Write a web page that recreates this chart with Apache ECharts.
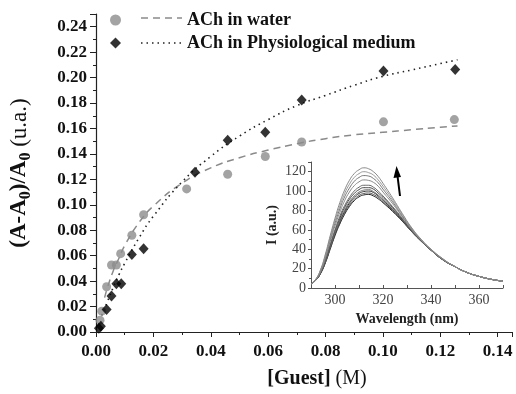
<!DOCTYPE html>
<html>
<head>
<meta charset="utf-8">
<script src="https://cdn.jsdelivr.net/npm/echarts@6/dist/echarts.min.js"></script>
<style>
html,body{margin:0;padding:0;background:#fff;}
#chart{width:516px;height:394px;}
</style>
</head>
<body>
<div id="chart"></div>
<script>
// ---- Main chart data ----
const waterX = [0.0014, 0.0020, 0.0037, 0.0054, 0.0071, 0.0086, 0.0125, 0.0166, 0.0316, 0.0459, 0.0590, 0.0717, 0.1002, 0.1249];
const waterY = [0.0093, 0.0164, 0.0356, 0.0527, 0.0527, 0.0616, 0.0761, 0.0922, 0.1125, 0.1240, 0.1380, 0.1494, 0.1652, 0.1670];
const physX = [0.0010, 0.0017, 0.0037, 0.0054, 0.0071, 0.0088, 0.0125, 0.0166, 0.0345, 0.0459, 0.0590, 0.0717, 0.1002, 0.1252];
const physY = [0.0030, 0.0045, 0.0177, 0.0283, 0.0380, 0.0380, 0.0610, 0.0655, 0.1255, 0.1507, 0.1570, 0.1824, 0.2052, 0.2063];

const fitX = [0.003, 0.004, 0.006, 0.008, 0.010, 0.015, 0.020, 0.030, 0.040, 0.050, 0.060, 0.070, 0.080, 0.090, 0.100, 0.110, 0.120, 0.126];
const waterFitY = [0.027, 0.035, 0.048, 0.058, 0.068, 0.086, 0.099, 0.117, 0.129, 0.137, 0.143, 0.148, 0.152, 0.155, 0.157, 0.159, 0.161, 0.162];
const physFitX = [0.002, 0.004, 0.006, 0.008, 0.010, 0.015, 0.020, 0.030, 0.040, 0.050, 0.060, 0.070, 0.080, 0.090, 0.100, 0.110, 0.120, 0.126];
const physFitY = [0.013, 0.024, 0.035, 0.045, 0.054, 0.074, 0.091, 0.118, 0.138, 0.154, 0.167, 0.178, 0.186, 0.194, 0.201, 0.206, 0.211, 0.214];

const seriesNames = ['ACh in water', 'ACh in Physiological medium'];

// ---- Inset spectra ----
const wavelength = [290, 292, 294, 296, 298, 300, 302, 304, 306, 308, 310, 312, 314, 316, 318, 320, 324, 328, 332, 336, 340, 345, 350, 355, 360, 365, 370];
const insetXLabels = [300, 320, 340, 360];
const spectra = [
  [4, 8, 15, 26, 40, 54, 66, 76, 84, 90, 94, 96, 96.5, 95, 92, 88, 79, 69, 58, 48, 39, 29, 22, 16, 12, 9, 7],
  [4, 8, 15, 26.5, 41, 55, 67, 77.5, 85.5, 91.5, 95.5, 97.5, 98, 96.5, 93.5, 89, 80, 69.5, 58, 48, 39, 29, 22, 16, 12, 9, 7],
  [4, 8, 15.5, 27, 42, 56, 69, 79, 87.5, 93.5, 97.5, 99.5, 100, 98.5, 95, 90.5, 81, 70, 58.5, 48.5, 39, 29, 22, 16, 12, 9, 7],
  [4, 8, 15.5, 27.5, 42.5, 57, 70, 80.5, 89, 95, 99, 101, 101.5, 99.5, 96, 91.5, 81.5, 70.5, 58.5, 48.5, 39, 29, 22, 16, 12, 9, 7],
  [4, 8.5, 16, 28.5, 44, 59, 72, 83, 91.5, 97.5, 101.5, 103.5, 103.5, 102, 98, 93.5, 83, 71, 59, 48.5, 39.5, 29.5, 22, 16, 12, 9, 7],
  [4, 8.5, 16.5, 29, 45, 60, 74, 85, 93.5, 100, 104, 106, 106, 104, 100, 95, 84, 72, 59.5, 48.5, 39.5, 29.5, 22, 16, 12, 9, 7],
  [4, 8.5, 17, 31, 48, 64, 78, 90, 99, 105.5, 109.5, 111.5, 111, 109, 105, 99, 87, 73.5, 60, 49, 39.5, 29.5, 22, 16, 12, 9, 7],
  [4, 8.5, 18, 32.5, 50, 67, 81.5, 94, 103, 110, 114, 116, 115.5, 113, 108.5, 102, 89, 74.5, 61, 49.5, 39.5, 29.5, 22, 16, 12, 9, 7],
  [4, 9, 18.5, 33.5, 52, 69.5, 84.5, 97.5, 107, 114, 118, 120, 119, 116.5, 111.5, 105, 91, 76, 61.5, 49.5, 40, 30, 22, 16, 12, 9, 7],
  [4, 9, 19, 35, 54, 72, 88, 101, 111, 118, 122, 124, 123, 120, 115, 108, 93, 77, 62, 50, 40, 30, 22, 16, 12, 9, 7]
];
const spectraColors = ['#222', '#555', '#333', '#777', '#444', '#666', '#888', '#777', '#999', '#888'];

const serif = 'Liberation Serif, Times New Roman, serif';

function pairs(xs, ys) { return xs.map((x, i) => [x, ys[i]]); }

const chart = echarts.init(document.getElementById('chart'), null, {renderer: 'canvas'});

const series = [
  {
    name: seriesNames[0] + ' fit', type: 'line', xAxisIndex: 0, yAxisIndex: 0,
    data: pairs(fitX, waterFitY), showSymbol: false, smooth: true, silent: true,
    lineStyle: {color: '#8a8a8a', width: 1.5, type: [7, 5]}, z: 2
  },
  {
    name: seriesNames[1] + ' fit', type: 'line', xAxisIndex: 0, yAxisIndex: 0,
    data: pairs(physFitX, physFitY), showSymbol: false, smooth: true, silent: true,
    lineStyle: {color: '#222', width: 1.6, type: [1.5, 4]}, z: 2
  },
  {
    name: seriesNames[0], type: 'scatter', xAxisIndex: 0, yAxisIndex: 0,
    data: pairs(waterX, waterY), symbol: 'circle', symbolSize: 9,
    itemStyle: {color: '#8c8c8c'}, z: 3
  },
  {
    name: seriesNames[1], type: 'scatter', xAxisIndex: 0, yAxisIndex: 0,
    data: pairs(physX, physY), symbol: 'diamond', symbolSize: [10, 11],
    itemStyle: {color: '#000'}, z: 4
  }
];
spectra.forEach((s, i) => {
  series.push({
    type: 'line', xAxisIndex: 1, yAxisIndex: 1, data: pairs(wavelength, s),
    showSymbol: false, smooth: true, silent: true,
    lineStyle: {color: spectraColors[i], width: 1}, z: 2
  });
});

const option = {
  backgroundColor: '#fff',
  animation: false,
  legend: {
    data: seriesNames,
    orient: 'vertical',
    left: 105, top: 6,
    itemWidth: 11, itemHeight: 11,
    itemGap: 5,
    textStyle: {fontFamily: serif, fontWeight: 'bold', fontSize: 18, color: '#111', padding: [0, 0, 0, 61]}
  },
  grid: [
    {left: 92, right: 4, top: 14, bottom: 59},
    {left: 311, right: 13, top: 162, bottom: 106, z: 5}
  ],
  xAxis: [
    {
      gridIndex: 0, type: 'value', min: 0, max: 0.145, interval: 0.02,
      name: '{b|[Guest]}{n| (M)}', nameLocation: 'middle', nameGap: 37,
      nameTextStyle: {rich: {
        b: {fontFamily: serif, fontWeight: 'bold', fontSize: 20, color: '#111', padding: [0, 0, 0, 26]},
        n: {fontFamily: serif, fontSize: 20, color: '#111'}
      }},
      axisLine: {lineStyle: {color: '#222', width: 1.2}},
      axisTick: {show: true, inside: false, length: 5, lineStyle: {color: '#222'}},
      minorTick: {show: true, splitNumber: 2, length: 3, lineStyle: {color: '#222'}},
      splitLine: {show: false},
      axisLabel: {showMaxLabel: false, margin: 11, fontFamily: serif, fontWeight: 'bold', fontSize: 17, color: '#111',
        formatter: v => v.toFixed(2)}
    },
    {
      gridIndex: 1, type: 'value', min: 290, max: 370, interval: 10,
      name: 'Wavelength (nm)', nameLocation: 'middle', nameGap: 24,
      nameTextStyle: {fontFamily: serif, fontWeight: 'bold', fontSize: 14, color: '#222'},
      axisLine: {lineStyle: {color: '#555', width: 1}},
      axisTick: {show: true, inside: true, length: 3, lineStyle: {color: '#555'}},
      minorTick: {show: false},
      splitLine: {show: false},
      axisLabel: {margin: 5, fontFamily: serif, fontSize: 14, color: '#444',
        formatter: v => insetXLabels.indexOf(v) >= 0 ? String(v) : ''}
    }
  ],
  yAxis: [
    {
      gridIndex: 0, type: 'value', min: 0, max: 0.25, interval: 0.02,
      name: '{b|(A-A}{s|0}{b|)/A}{s|0}{n| (u.a.)}', nameLocation: 'middle', nameGap: 62,
      nameTextStyle: {rich: {
        b: {fontFamily: serif, fontWeight: 'bold', fontSize: 23, color: '#111'},
        s: {fontFamily: serif, fontWeight: 'bold', fontSize: 16, color: '#111', padding: [13, 0, 0, 0]},
        n: {fontFamily: serif, fontSize: 23, color: '#111'}
      }},
      axisLine: {show: true, lineStyle: {color: '#222', width: 1.2}},
      axisTick: {show: true, inside: false, length: 6, lineStyle: {color: '#222'}},
      minorTick: {show: true, splitNumber: 2, length: 3, lineStyle: {color: '#222'}},
      splitLine: {show: false},
      axisLabel: {showMaxLabel: false, margin: 9, fontFamily: serif, fontWeight: 'bold', fontSize: 17, color: '#111',
        formatter: v => v.toFixed(2)}
    },
    {
      gridIndex: 1, type: 'value', min: 0, max: 130, interval: 20,
      name: 'I (a.u.)', nameLocation: 'middle', nameGap: 32,
      nameTextStyle: {fontFamily: serif, fontWeight: 'bold', fontSize: 14, color: '#222'},
      axisLine: {show: true, lineStyle: {color: '#555', width: 1}},
      axisTick: {show: true, inside: false, length: 3, lineStyle: {color: '#555'}},
      minorTick: {show: true, splitNumber: 2, length: 2, lineStyle: {color: '#555'}},
      splitLine: {show: false},
      axisLabel: {showMaxLabel: false, margin: 5, fontFamily: serif, fontSize: 14, color: '#444'}
    }
  ],
  graphic: [
    {type: 'line', shape: {x1: 141, y1: 18, x2: 182, y2: 18}, style: {stroke: '#8a8a8a', lineWidth: 1.5, lineDash: [7, 5]}},
    {type: 'line', shape: {x1: 141, y1: 43, x2: 182, y2: 43}, style: {stroke: '#222', lineWidth: 1.6, lineDash: [1.5, 4]}},
    {type: 'line', shape: {x1: 400, y1: 196, x2: 397.5, y2: 176}, style: {stroke: '#000', lineWidth: 2}},
    {type: 'polygon', shape: {points: [[396.5, 166], [393.5, 178], [401, 177]]}, style: {fill: '#000'}}
  ],
  series: series
};
chart.setOption(option);
</script>
</body>
</html>
